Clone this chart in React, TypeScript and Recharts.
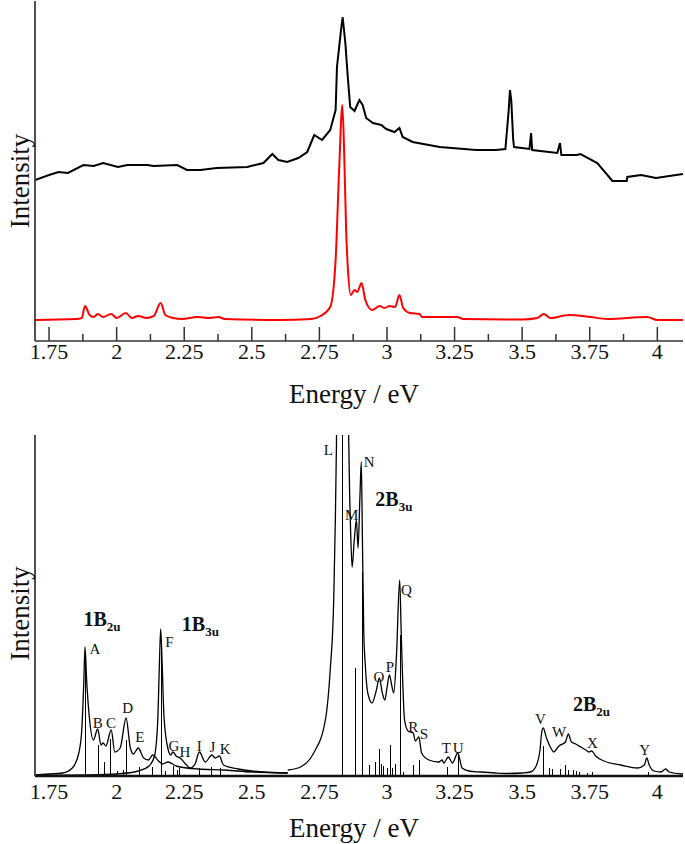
import React from "react";
import { ComposedChart, Line, Bar, Scatter, XAxis, YAxis } from "recharts";

// energy window shared by both panels (eV)
const X_MIN = 1.698;
const X_MAX = 4.095;

const MAJOR_TICKS = [1.75, 2, 2.25, 2.5, 2.75, 3, 3.25, 3.5, 3.75, 4];
const MINOR_TICKS = [1.875, 2.125, 2.375, 2.625, 2.875, 3.125, 3.375, 3.625, 3.875];

// top panel: measured spectrum (black)
const expEnergy = [
  1.698, 1.75, 1.785, 1.82, 1.877, 1.915, 1.95, 2.005, 2.04, 2.113, 2.137, 2.224, 2.26, 2.31,
  2.37, 2.483, 2.543, 2.576, 2.598, 2.631, 2.672, 2.705, 2.731, 2.76, 2.79, 2.81, 2.815, 2.83,
  2.836, 2.846, 2.855, 2.864, 2.88, 2.898, 2.91, 2.923, 2.948, 2.979, 2.997, 3.028, 3.046,
  3.058, 3.095, 3.195, 3.33, 3.403, 3.438, 3.45, 3.455, 3.46, 3.462, 3.467, 3.47, 3.527, 3.533,
  3.537, 3.63, 3.64, 3.645, 3.703, 3.716, 3.778, 3.834, 3.887, 3.889, 3.94, 3.995, 4.095,
];
const expIntensity = [
  161, 166, 169, 168, 176, 175, 178, 174, 176, 176, 175, 176, 171, 171,
  173, 174, 178, 187, 181, 179, 183, 189, 206, 201, 211, 231, 274, 311,
  324, 298, 264, 234, 230, 241, 236, 223, 218, 216, 212, 209, 213,
  204, 199, 194, 191, 191, 192, 230, 251, 240, 228, 201, 194, 192, 208,
  191, 188, 198, 186, 186, 187, 178, 160, 160, 164, 166, 163, 167,
];

// top panel: simulated spectrum (red)
const simEnergy = [
  1.698, 1.85, 1.871, 1.883, 1.9, 1.915, 1.93, 1.95, 1.98, 2.0, 2.034, 2.056, 2.08, 2.11, 2.137,
  2.163, 2.18, 2.21, 2.24, 2.3, 2.34, 2.377, 2.4, 2.6, 2.72, 2.754, 2.79, 2.81, 2.823, 2.835,
  2.843, 2.849, 2.855, 2.866, 2.88, 2.89, 2.906, 2.92, 2.945, 2.973, 2.99, 3.01, 3.03, 3.046,
  3.06, 3.085, 3.12, 3.13, 3.22, 3.26, 3.283, 3.5, 3.556, 3.58, 3.605, 3.673, 3.753, 3.815,
  3.963, 4.0, 4.095,
];
const simIntensity = [
  21, 22, 23, 35, 26, 24, 27, 24, 27, 23, 28, 23, 25, 23, 25,
  38, 26, 23, 22, 24, 23, 24, 22, 21, 22, 25, 34, 81, 171, 236,
  174, 110, 74, 46, 51, 49, 58, 41, 31, 35, 33, 35, 34, 46,
  33, 28, 27, 24, 24, 24, 22, 21.5, 23, 27, 23, 26, 24, 22,
  24, 21, 21,
];

// bottom panel: 1B2u band envelope
const b2uEnergy = [
  1.698, 1.75, 1.8, 1.836, 1.86, 1.871, 1.878, 1.883, 1.889, 1.9, 1.914, 1.93, 1.942, 1.95,
  1.96, 1.98, 1.993, 2.013, 2.035, 2.05, 2.062, 2.08, 2.1, 2.118, 2.133, 2.155, 2.17, 2.19,
  2.22, 2.3, 2.4, 2.5, 2.633,
];
const b2uIntensity = [
  1, 2, 3, 8, 23, 46, 90, 129, 96, 56, 36, 47, 31, 33,
  30, 46, 24, 28, 58, 29, 22, 28, 18, 16, 21, 15, 12, 14,
  10, 7, 6, 4, 3,
];

// bottom panel: 1B3u band envelope
const b3uEnergy = [
  1.698, 1.9, 2.0, 2.08, 2.12, 2.14, 2.152, 2.158, 2.163, 2.168, 2.175, 2.19, 2.2, 2.208,
  2.22, 2.235, 2.255, 2.272, 2.29, 2.306, 2.328, 2.352, 2.365, 2.38, 2.395, 2.45, 2.5, 2.633,
];
const b3uIntensity = [
  0.5, 1, 2, 5, 10, 20, 55, 110, 147, 115, 60, 27, 21, 24,
  20, 18, 12, 8, 12, 24, 14, 21, 18, 20, 11, 7, 5, 3,
];

// bottom panel: 2B3u + 2B2u envelope
const highEnergy = [
  2.633, 2.68, 2.729, 2.772, 2.79, 2.803, 2.809, 2.813, 2.82, 2.835, 2.85, 2.857, 2.862, 2.866,
  2.871, 2.879, 2.887, 2.893, 2.9, 2.905, 2.909, 2.914, 2.92, 2.929, 2.945, 2.96, 2.972, 2.982,
  2.992, 3.0, 3.009, 3.018, 3.025, 3.035, 3.047, 3.052, 3.056, 3.065, 3.078, 3.097, 3.105,
  3.118, 3.128, 3.155, 3.192, 3.204, 3.21, 3.227, 3.242, 3.262, 3.278, 3.303, 3.346, 3.4, 3.45,
  3.5, 3.531, 3.55, 3.566, 3.572, 3.578, 3.59, 3.606, 3.617, 3.636, 3.66, 3.671, 3.682, 3.698,
  3.717, 3.735, 3.747, 3.757, 3.772, 3.803, 3.865, 3.927, 3.952, 3.961, 3.97, 3.988, 4.013,
  4.031, 4.044, 4.095,
];
const highIntensity = [
  6, 9, 23, 56, 106, 176, 256, 330, 520, 1100, 520, 360, 280, 240,
  209, 236, 256, 228, 280, 314, 240, 146, 110, 83, 73, 85, 98, 84,
  76, 88, 101, 90, 83, 120, 196, 150, 113, 56, 45, 43, 35,
  39, 23, 16, 14, 16, 13, 19, 13, 23, 8, 5, 4, 3, 2.5,
  3, 4, 9, 26, 43, 48, 38, 28, 24, 30, 34, 42, 34, 32,
  29, 26, 24, 25, 20, 15, 11, 8, 11, 18, 11, 5, 4,
  7, 4, 2,
];

// bottom panel: vibronic stick spectrum
const stickEnergy = [
  1.883, 1.93, 1.954, 1.976, 2.003, 2.025, 2.035, 2.081, 2.13, 2.164, 2.18, 2.21, 2.223, 2.232,
  2.306, 2.35, 2.383, 2.834, 2.883, 2.906, 2.933, 2.955, 2.972, 2.979, 2.985, 3.0, 3.01, 3.019,
  3.028, 3.047, 3.06, 3.097, 3.118, 3.223, 3.262, 3.577, 3.6, 3.61, 3.64, 3.66, 3.67, 3.69,
  3.7, 3.71, 3.74, 3.76, 3.964,
];
const stickIntensity = [
  120, 31, 14, 37, 5, 6, 36, 9, 9, 125, 5, 10, 6, 8,
  8, 9, 8, 1000, 108, 204, 11, 14, 27, 12, 10, 8, 31, 8,
  12, 141, 4, 11, 16, 9, 22, 30, 8, 7, 7, 11, 6, 6,
  5, 4, 3, 4, 4,
];

// peak letters
const peakLetters = ["A", "B", "C", "D", "E", "F", "G", "H", "I", "J", "K", "L", "M", "N", "O", "P", "Q", "R", "S", "T", "U", "V", "W", "X", "Y"];
const peakLetterEnergy = [
  1.92, 1.93, 1.979, 2.041, 2.086, 2.195, 2.212, 2.253, 2.306, 2.354, 2.401, 2.783, 2.869,
  2.934, 2.97, 3.011, 3.072, 3.097, 3.137, 3.22, 3.263, 3.568, 3.637, 3.76, 3.953,
];
const peakLetterIntensity = [
  127, 53, 53, 68, 39, 134, 30, 24, 30, 29, 27, 326, 261,
  314, 99, 109, 186, 49, 42, 28, 28, 57, 44, 33, 26,
];

// electronic state labels
const stateMain = ["1B", "1B", "2B", "2B"];
const stateSub = ["2u", "3u", "3u", "2u"];
const stateEnergy = [1.877, 2.241, 2.957, 3.688];
const stateIntensity = [150, 145, 270, 65];

const zip = (es: number[], vs: number[]) => es.map((e, i) => ({ e, v: vs[i] }));

const expData = zip(expEnergy, expIntensity);
const simData = zip(simEnergy, simIntensity);
const b2uData = zip(b2uEnergy, b2uIntensity);
const b3uData = zip(b3uEnergy, b3uIntensity);
const highData = zip(highEnergy, highIntensity);
const stickData = zip(stickEnergy, stickIntensity);
const letterData = peakLetters.map((t, i) => ({ e: peakLetterEnergy[i], v: peakLetterIntensity[i], t }));
const stateData = stateMain.map((m, i) => ({ e: stateEnergy[i], v: stateIntensity[i], m, s: stateSub[i] }));

const SERIF = "Liberation Serif";
const FRAME = "#333";

function TopTick(props: any) {
  const { x, y, payload } = props;
  const major = MAJOR_TICKS.includes(payload.value);
  return (
    <g>
      <line x1={x} x2={x} y1={y} y2={y - (major ? 14 : 7)} stroke={FRAME} strokeWidth={1.5} />
      {major && (
        <text x={x} y={y + 17.5} textAnchor="middle" style={{ fontFamily: SERIF, fontSize: 22 }} fill="#111">
          {payload.value}
        </text>
      )}
    </g>
  );
}

function BottomTick(props: any) {
  const { x, y, payload } = props;
  return (
    <text x={x} y={y + 23} textAnchor="middle" style={{ fontFamily: SERIF, fontSize: 22 }} fill="#111">
      {payload.value}
    </text>
  );
}

// one vertical stick per transition, snapped to a pixel column
function Stick(props: any) {
  const { x, y, width, height } = props;
  if (height == null || !isFinite(height)) return null;
  const cx = Math.round(x + width / 2) + 0.5;
  return <line x1={cx} x2={cx} y1={y} y2={y + height} stroke="#000" strokeWidth={1} />;
}

function PeakLetter(props: any) {
  const { cx, cy, payload } = props;
  return (
    <text x={cx} y={cy} textAnchor="middle" dominantBaseline="central" style={{ fontFamily: SERIF, fontSize: 15 }} fill="#111">
      {payload.t}
    </text>
  );
}

function StateLabel(props: any) {
  const { cx, cy, payload } = props;
  return (
    <text x={cx} y={cy} style={{ fontFamily: SERIF, fontSize: 20, fontWeight: "bold" }} fill="#111">
      {payload.m}
      <tspan style={{ fontSize: 13 }} dy={5}>{payload.s}</tspan>
    </text>
  );
}

const titleStyle = { fontFamily: SERIF, fontSize: 27, fill: "#111" };

export default function App() {
  return (
    <div style={{ position: "absolute", left: 0, top: 0, width: 685, height: 844, background: "#fff" }}>
      <ComposedChart width={685} height={420} margin={{ top: 1, right: 2, bottom: 0, left: 0 }}>
        <XAxis
          dataKey="e"
          type="number"
          domain={[X_MIN, X_MAX]}
          allowDataOverflow
          ticks={[...MAJOR_TICKS, ...MINOR_TICKS].sort((a, b) => a - b)}
          interval={0}
          tickSize={0}
          tickMargin={0}
          tickLine={false}
          tick={<TopTick />}
          height={79}
          axisLine={{ stroke: FRAME, strokeWidth: 1.7 }}
          label={{ value: "Energy / eV", position: "insideBottom", offset: 17, dx: -5, style: titleStyle }}
        />
        <XAxis xAxisId="top" orientation="top" type="number" domain={[X_MIN, X_MAX]} height={0} tick={false} tickLine={false} axisLine={{ stroke: FRAME, strokeWidth: 1.7 }} />
        <YAxis
          dataKey="v"
          type="number"
          domain={[0, 340]}
          allowDataOverflow
          width={35}
          tick={false}
          tickLine={false}
          axisLine={{ stroke: FRAME, strokeWidth: 1.7 }}
          label={{ value: "Intensity", angle: -90, position: "center", dx: 2, dy: 10, style: titleStyle }}
        />
        <YAxis yAxisId="right" orientation="right" width={0} tick={false} tickLine={false} axisLine={{ stroke: FRAME, strokeWidth: 1.7 }} />
        <Line data={expData} dataKey="v" type="linear" stroke="#000" strokeWidth={2} dot={false} isAnimationActive={false} />
        <Line data={simData} dataKey="v" type="monotone" stroke="#ff0000" strokeWidth={2} dot={false} isAnimationActive={false} />
      </ComposedChart>

      <div style={{ position: "absolute", left: 0, top: 420 }}>
        <ComposedChart width={685} height={424} data={stickData} margin={{ top: 15, right: 2, bottom: 0, left: 0 }}>
          <XAxis
            dataKey="e"
            type="number"
            domain={[X_MIN, X_MAX]}
            allowDataOverflow
            ticks={MAJOR_TICKS}
            interval={0}
            tickSize={0}
            tickMargin={0}
            tickLine={false}
            tick={<BottomTick />}
            height={68}
            axisLine={{ stroke: "#111", strokeWidth: 2.5 }}
            label={{ value: "Energy / eV", position: "insideBottom", offset: 7, dx: -5, style: titleStyle }}
          />
          <XAxis xAxisId="top" orientation="top" type="number" domain={[X_MIN, X_MAX]} height={0} tick={false} tickLine={false} axisLine={{ stroke: FRAME, strokeWidth: 1.7 }} />
          <YAxis
            dataKey="v"
            type="number"
            domain={[0, 341]}
            allowDataOverflow
            width={35}
            tick={false}
            tickLine={false}
            axisLine={{ stroke: FRAME, strokeWidth: 1.7 }}
            label={{ value: "Intensity", angle: -90, position: "center", dx: 2, dy: 8, style: titleStyle }}
          />
          <YAxis yAxisId="right" orientation="right" width={0} tick={false} tickLine={false} axisLine={{ stroke: FRAME, strokeWidth: 1.7 }} />
          <Bar dataKey="v" barSize={1} shape={Stick} isAnimationActive={false} />
          <Line data={b2uData} dataKey="v" type="monotone" stroke="#000" strokeWidth={1.3} dot={false} isAnimationActive={false} />
          <Line data={b3uData} dataKey="v" type="monotone" stroke="#000" strokeWidth={1.3} dot={false} isAnimationActive={false} />
          <Line data={highData} dataKey="v" type="monotone" stroke="#000" strokeWidth={1.3} dot={false} isAnimationActive={false} />
          <Scatter data={letterData} dataKey="v" shape={PeakLetter} isAnimationActive={false} />
          <Scatter data={stateData} dataKey="v" shape={StateLabel} isAnimationActive={false} />
        </ComposedChart>
      </div>
    </div>
  );
}
